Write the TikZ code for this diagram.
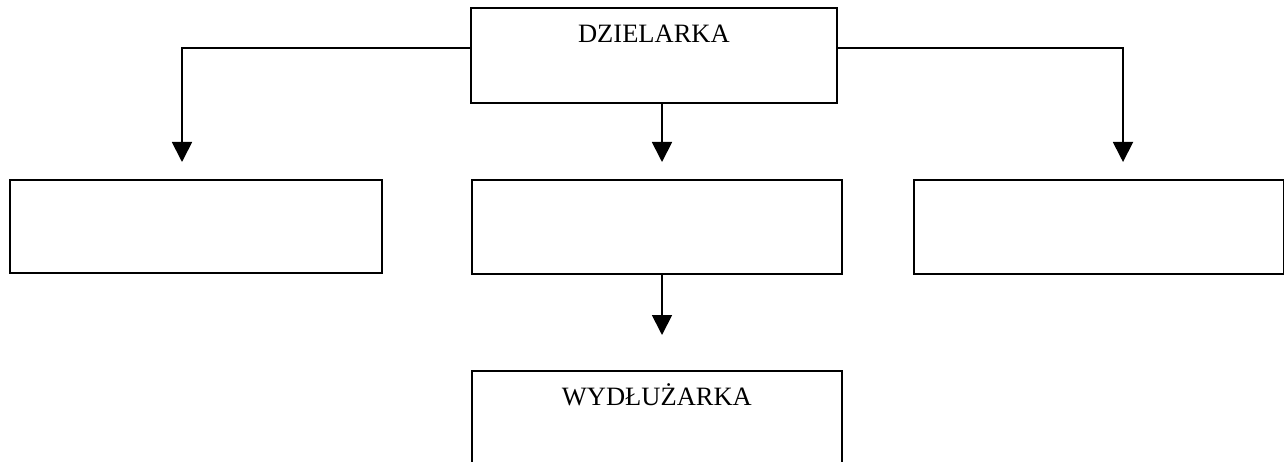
\documentclass[tikz,border=0pt]{standalone}
\usepackage{fontspec}
\setmainfont{Liberation Serif}
\usetikzlibrary{arrows.meta,calc}
\begin{document}
\begin{tikzpicture}[x=1pt,y=-1pt,
  box/.style={draw, line width=1.8pt, rectangle, inner sep=0pt, anchor=north west},
  lbl/.style={font=\fontsize{26.5}{32}\selectfont, anchor=base, inner sep=0pt},
  conn/.style={line width=1.8pt, -{Triangle[width=20pt,length=20pt]}}]
\clip (0,0) rectangle (1284,462);
\useasboundingbox (0,0) rectangle (1284,462);
\node[box, minimum width=366pt, minimum height=95pt] (top) at (470,7) {};
\node[box, minimum width=372pt, minimum height=93pt] (left) at (9,179) {};
\node[box, minimum width=370pt, minimum height=94pt] (mid) at (471,179) {};
\node[box, minimum width=370pt, minimum height=94pt] (right) at (913,179) {};
\node[box, minimum width=370pt, minimum height=120pt] (bottom) at (471,370) {};
\node[lbl] (toplbl) at ($(top.north)+(0,36)$) {DZIELARKA};
\node[lbl] (botlbl) at ($(bottom.north)+(0,35)$) {WYDŁUŻARKA};
\coordinate (tl) at ($(top.north west)+(0,41)$);
\coordinate (tr) at ($(top.north east)+(0,41)$);
\coordinate (la) at (182,162);
\coordinate (ra) at (1123,162);
\coordinate (ca) at (662,162);
\coordinate (ba) at (662,335);
\draw[conn] (tl) -| (la);
\draw[conn] (tr) -| (ra);
\draw[conn] (top.south -| ca) -- (ca);
\draw[conn] (mid.south -| ba) -- (ba);
\end{tikzpicture}
\end{document}
